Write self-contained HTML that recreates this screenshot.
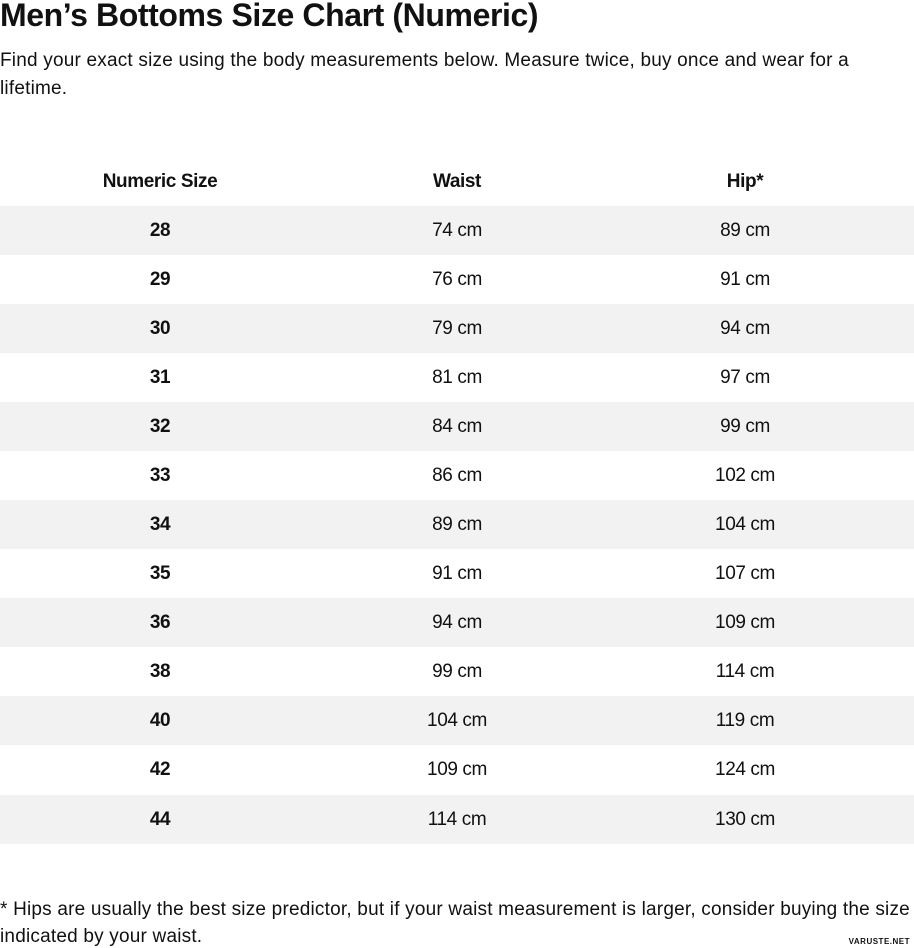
<!DOCTYPE html>
<html><head><meta charset="utf-8"><style>
body{margin:0;width:914px;height:947px;background:#fff;font-family:"Liberation Sans",sans-serif;color:#111;position:relative;overflow:hidden}
.t{position:absolute;left:0;top:-3px;font-size:32px;font-weight:bold;letter-spacing:-0.4px;white-space:nowrap}
.p{position:absolute;left:0;font-size:19px;white-space:nowrap;letter-spacing:0.2px}
.row{position:absolute;left:0;width:914px;height:49px;font-size:19px}
.row div{position:absolute;top:0;line-height:49px;text-align:center;width:300px;letter-spacing:-0.4px}
.a{left:10px}.b{left:307px}.c{left:595px}
.a{font-weight:bold}
.s{background:#f2f2f2}
.h{font-weight:bold}
.w{position:absolute;right:4px;bottom:1px;font-size:8px;font-weight:bold;letter-spacing:0.5px}
</style></head><body>
<div class="t">Men’s Bottoms Size Chart (Numeric)</div>
<div class="p" style="top:50px">Find your exact size using the body measurements below. Measure twice, buy once and wear for a</div>
<div class="p" style="top:78px">lifetime.</div>
<div class="row h" style="top:157px"><div class="a">Numeric Size</div><div class="b">Waist</div><div class="c">Hip*</div></div>
<div class="row s" style="top:206px"><div class="a">28</div><div class="b">74 cm</div><div class="c">89 cm</div></div>
<div class="row" style="top:255px"><div class="a">29</div><div class="b">76 cm</div><div class="c">91 cm</div></div>
<div class="row s" style="top:304px"><div class="a">30</div><div class="b">79 cm</div><div class="c">94 cm</div></div>
<div class="row" style="top:353px"><div class="a">31</div><div class="b">81 cm</div><div class="c">97 cm</div></div>
<div class="row s" style="top:402px"><div class="a">32</div><div class="b">84 cm</div><div class="c">99 cm</div></div>
<div class="row" style="top:451px"><div class="a">33</div><div class="b">86 cm</div><div class="c">102 cm</div></div>
<div class="row s" style="top:500px"><div class="a">34</div><div class="b">89 cm</div><div class="c">104 cm</div></div>
<div class="row" style="top:549px"><div class="a">35</div><div class="b">91 cm</div><div class="c">107 cm</div></div>
<div class="row s" style="top:598px"><div class="a">36</div><div class="b">94 cm</div><div class="c">109 cm</div></div>
<div class="row" style="top:647px"><div class="a">38</div><div class="b">99 cm</div><div class="c">114 cm</div></div>
<div class="row s" style="top:696px"><div class="a">40</div><div class="b">104 cm</div><div class="c">119 cm</div></div>
<div class="row" style="top:745px"><div class="a">42</div><div class="b">109 cm</div><div class="c">124 cm</div></div>
<div class="row s" style="top:795px"><div class="a">44</div><div class="b">114 cm</div><div class="c">130 cm</div></div>
<div class="p" style="top:899px">* Hips are usually the best size predictor, but if your waist measurement is larger, consider buying the size</div>
<div class="p" style="top:926px">indicated by your waist.</div>
<div class="w">VARUSTE.NET</div>
</body></html>
